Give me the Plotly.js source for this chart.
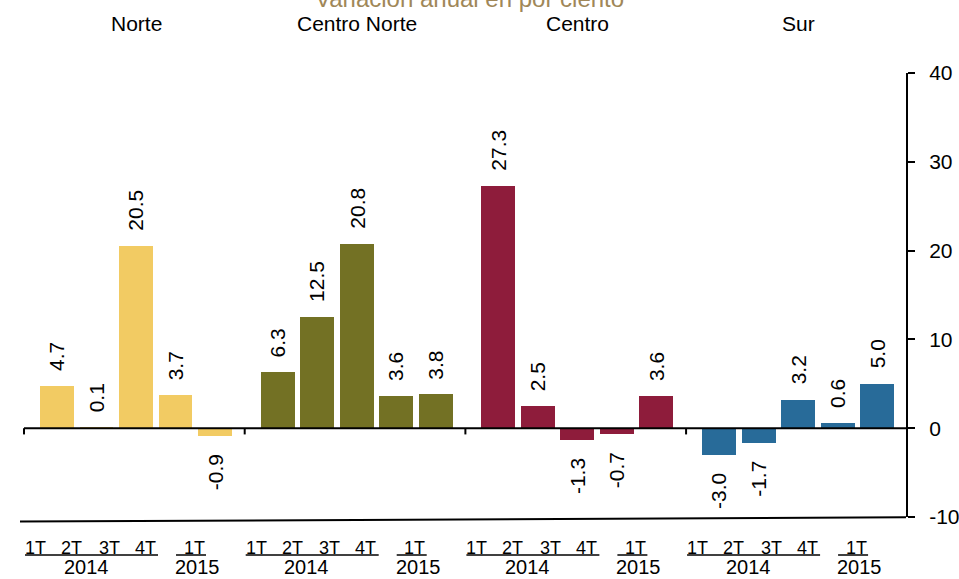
<!DOCTYPE html>
<html>
<head>
<meta charset="utf-8">
<script src="https://cdn.plot.ly/plotly-3.0.1.min.js"></script>
<style>html,body{margin:0;padding:0;background:#fff;}#chart{width:959px;height:579px;}</style>
</head>
<body>
<div id="chart"></div>
<script>
// ---- data ----
var regions = ['Norte', 'Centro Norte', 'Centro', 'Sur'];
var quarterLabels = ['1T', '2T', '3T', '4T', '1T'];
var yearLabels = ['2014', '2015'];
var norte = [4.7, 0.1, 20.5, 3.7, -0.9];
var centroNorte = [6.3, 12.5, 20.8, 3.6, 3.8];
var centro = [27.3, 2.5, -1.3, -0.7, 3.6];
var sur = [-3.0, -1.7, 3.2, 0.6, 5.0];
var regionColors = ['#F2CB63', '#737124', '#8E1C3B', '#286B99'];
var yTickVals = [-10, 0, 10, 20, 30, 40];
var yTickText = ['-10', '0', '10', '20', '30', '40'];
var chartTitle = 'Variación anual en por ciento';

// ---- layout helpers ----
var series = [norte, centroNorte, centro, sur];
var FONT = 'Arial, "Liberation Sans", sans-serif';
var PX = 39.5;          // pixels per bar slot
var STRIDE = 5.587;     // slots per region group
var SEP = -0.835;       // separator offset from first bar
function px(o) { return o / PX; }
function sepX(g) { return g * STRIDE + SEP; }

var traces = [];
var annotations = [];
var shapes = [];

series.forEach(function (vals, g) {
  var xs = vals.map(function (v, j) { return g * STRIDE + j; });
  traces.push({
    type: 'bar', x: xs, y: vals, width: 0.86,
    marker: { color: regionColors[g], line: { width: 0 } },
    hoverinfo: 'skip', showlegend: false
  });
  vals.forEach(function (v, j) {
    annotations.push({
      x: xs[j], y: v, xref: 'x', yref: 'y',
      text: v.toFixed(1), showarrow: false, textangle: -90,
      yanchor: v >= 0 ? 'bottom' : 'top',
      yshift: v >= 0 ? 13 : -16,
      font: { family: FONT, size: 21, color: '#000' }
    });
  });
  // region title
  annotations.push({
    x: g * STRIDE + 2, y: 0, xref: 'x', yref: 'paper', yshift: 517 - 23.8,
    text: regions[g], showarrow: false, yanchor: 'middle',
    font: { family: FONT, size: 21, color: '#000' }
  });
  // quarter labels
  var qOff = [11.4, 47.5, 85, 121, 170];
  quarterLabels.forEach(function (q, k) {
    annotations.push({
      x: sepX(g) + px(qOff[k]), y: 0, xref: 'x', yref: 'paper', yshift: 517 - 548,
      text: q, showarrow: false, yanchor: 'middle',
      font: { family: FONT, size: 18, color: '#000' }
    });
  });
  var yOff = [62, 173.5];
  yearLabels.forEach(function (yl, k) {
    annotations.push({
      x: sepX(g) + px(yOff[k]), y: 0, xref: 'x', yref: 'paper', yshift: 517 - 567,
      text: yl, showarrow: false, yanchor: 'middle',
      font: { family: FONT, size: 20, color: '#000' }
    });
  });
  // underlines
  var uy = (517 - 555) / 444;
  [[1, 134], [152, 182]].forEach(function (u) {
    shapes.push({
      type: 'line', xref: 'x', yref: 'paper',
      x0: sepX(g) + px(u[0]), x1: sepX(g) + px(u[1]), y0: uy, y1: uy,
      line: { color: '#000', width: 1.5 }
    });
  });
  // separator tick on zero line
  shapes.push({
    type: 'line', xref: 'x', yref: 'y',
    x0: sepX(g), x1: sepX(g), y0: 0, y1: -0.7,
    line: { color: '#000', width: 2 }
  });
});

// zero line
shapes.push({
  type: 'line', xref: 'paper', yref: 'y', x0: 0.0045, x1: 1, y0: 0, y1: 0,
  line: { color: '#000', width: 2 }
});
// bottom (slightly slanted) line
shapes.push({
  type: 'line', xref: 'paper', yref: 'paper', x0: 0, x1: 1,
  y0: -4.5 / 444, y1: -0.3 / 444,
  line: { color: '#000', width: 2 }
});

// cut-off chart title
annotations.push({
  x: 487 / 959, xref: 'paper', y: 0, yref: 'paper', yshift: 517 + 1.3,
  text: chartTitle, showarrow: false, yanchor: 'middle', xanchor: 'center',
  font: { family: FONT, size: 24, color: '#A08758' }
});

var layout = {
  width: 959, height: 579,
  margin: { l: 20, r: 53, t: 73, b: 62, pad: 0 },
  paper_bgcolor: '#fff', plot_bgcolor: '#fff',
  showlegend: false, bargap: 0,
  xaxis: {
    range: [(20 - 57) / PX, (906 - 57) / PX],
    showgrid: false, zeroline: false, showticklabels: false,
    showline: false, ticks: '', fixedrange: true
  },
  yaxis: {
    side: 'right', range: [-10, 40],
    tickvals: yTickVals, ticktext: yTickText,
    ticks: 'outside', ticklen: 7, tickwidth: 2, tickcolor: '#000',
    showline: true, linewidth: 2, linecolor: '#000',
    showgrid: false, zeroline: false, ticklabelstandoff: 10,
    tickfont: { family: FONT, size: 21, color: '#000' }, fixedrange: true
  },
  annotations: annotations,
  shapes: shapes
};

Plotly.newPlot('chart', traces, layout, { displayModeBar: false, staticPlot: true });
</script>
</body>
</html>
